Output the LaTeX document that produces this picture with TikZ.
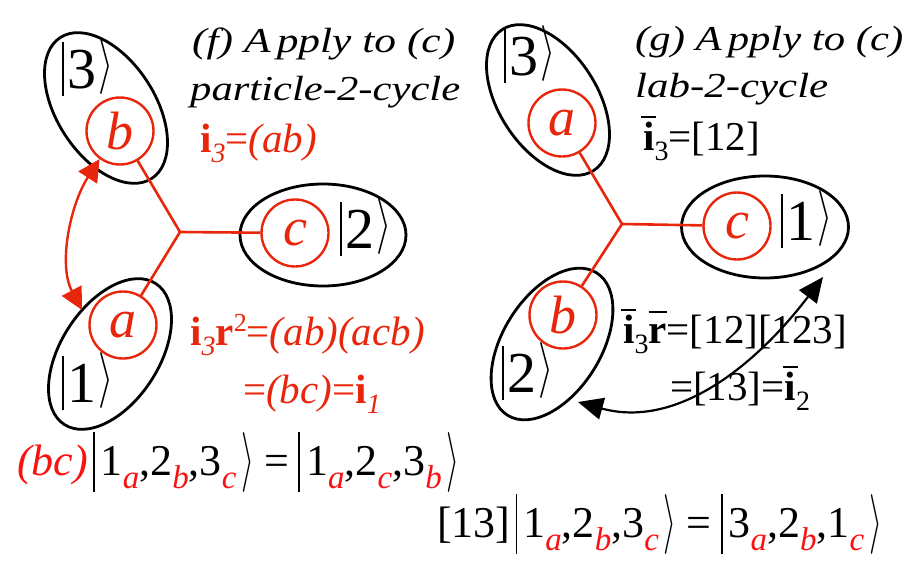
\documentclass[tikz,border=0pt]{standalone}
\usepackage{fontspec}
\setmainfont{Liberation Serif}
\usetikzlibrary{shapes.geometric,arrows.meta}
\definecolor{rd}{RGB}{232,38,12}
\definecolor{rr}{RGB}{250,18,18}
\newcommand{\fs}[1]{\fontsize{#1}{#1}\selectfont}
\newcommand{\angl}[3]{\raisebox{#3}{\scalebox{#1}[#2]{\fontsize{10}{10}\selectfont$\rangle$}}}
\newcommand{\smket}[1]{\raisebox{-8pt}{\rule{2pt}{54pt}}\hspace{4pt}#1\hspace{2pt}\angl{3.9}{5.6}{8pt}}
\newcommand{\sbr}[1]{\raisebox{-13pt}{\fs{33}\itshape\color{rr}#1}}
\newcommand{\kbar}{\hspace{5pt}\raisebox{-17pt}{\rule{1.8pt}{60pt}}\hspace{6pt}}
\newcommand{\kang}{\hspace{5pt}\angl{3.35}{6}{-2pt}\hspace{2pt}}
\newcommand{\keq}{\hspace{8pt}=\hspace{4pt}}
\newcommand{\ib}{\rlap{\hspace{-2pt}\raisebox{32pt}{\rule{15pt}{2.2pt}}}\textbf{i}}
\newcommand{\rb}{\rlap{\raisebox{30pt}{\rule{18pt}{2.2pt}}}\textbf{r}}
\newcommand{\sub}[1]{\raisebox{-10pt}{\fs{28}#1}}
\newcommand{\sups}[1]{\raisebox{14pt}{\fs{26}#1}}
\begin{document}
\begin{tikzpicture}[x=1pt,y=-1pt,
 ell/.style={ellipse,draw=black,line width=2.8pt,inner sep=0pt,minimum width=168pt,minimum height=98pt},
 pc/.style={circle,draw=rd,line width=2.4pt,minimum size=67pt,inner sep=0pt,text=rd,font=\fs{54}\itshape},
 bond/.style={draw=rd,line width=2.6pt},
 ket/.style={anchor=base,font=\fs{58},inner sep=0pt},
 ttl/.style={anchor=base west,font=\fs{35}\itshape,inner sep=0pt},
 eq/.style={anchor=base west,font=\fs{41},inner sep=0pt}
]
\useasboundingbox (0,0) rectangle (908,560);
% left diagram
\node[ell,rotate=-57] (L3) at (106,108) {};
\node[ell,rotate=57] (L1) at (110,354) {};
\node[ell,minimum width=166pt,minimum height=102pt] (L2) at (323,235) {};
\coordinate (jL) at (180,232);
\node[pc] (Lb) at (120,131) {b};
\node[pc] (Lc) at (295,233) {c};
\node[pc] (La) at (123,325) {a};
\draw[bond] (jL) -- (Lb);
\draw[bond] (jL) -- (Lc);
\draw[bond] (jL) -- (La);
\node[ket] (k3L) at (88,88) {\smket{3}};
\node[ket] (k2L) at (366,248) {\smket{2}};
\node[ket] (k1L) at (88,402) {\smket{1}};
\coordinate (t1) at (82,310);
\draw[rd,line width=2.4pt,{Triangle[length=22pt,width=22pt]}-{Triangle[length=22pt,width=22pt]}] (Lb.234) .. controls (70,205) and (58,265) .. (t1);
% right diagram
\node[ell,rotate=-57] (R3) at (548,100) {};
\node[ell,rotate=58] (R2) at (552,344) {};
\node[ell,minimum width=167pt,minimum height=102pt] (R1) at (765,227) {};
\coordinate (jR) at (622,224);
\node[pc] (Ra) at (562,123) {a};
\node[pc] (Rc) at (737,226) {c};
\node[pc] (Rb) at (563,315) {b};
\draw[bond] (jR) -- (Ra);
\draw[bond] (jR) -- (Rc);
\draw[bond] (jR) -- (Rb);
\node[ket] (k3R) at (530,75) {\smket{3}};
\node[ket] (k1R) at (807,240) {\smket{1}};
\node[ket] (k2R) at (528,392) {\smket{2}};
\coordinate (t2) at (578,402);
\coordinate (t3) at (823,277);
\draw[black,line width=2.2pt,{Triangle[length=25pt,width=22pt]}-{Triangle[length=25pt,width=22pt]}] (t2) .. controls (680,430) and (760,360) .. (t3);
% texts
\node[ttl] (tf1) at (192,52) {\resizebox{263pt}{\height}{(f) A\hspace{5pt}pply to (c)}};
\node[ttl] (tf2) at (190,100) {\resizebox{270pt}{\height}{particle-2-cycle}};
\node[ttl] (tg1) at (635,50) {\resizebox{268pt}{\height}{(g) A\hspace{5pt}pply to (c)}};
\node[ttl] (tg2) at (635,97) {\resizebox{193pt}{\height}{lab-2-cycle}};
\node[eq,text=rd] (i3) at (200,152) {\textbf{i}\sub{\textit{3}}=\textit{(ab)}};
\node[eq] (i3b) at (643,150) {\ib\sub{3}=[12]};
\node[eq,text=rd] (e1) at (190,345) {\textbf{i}\sub{\textit{3}}\textbf{r}\sups{2}=\textit{(ab)(acb)}};
\node[eq,text=rd] (e2) at (243,403) {=\textit{(bc)}=\textbf{i}\sub{\textit{1}}};
\node[eq] (e3) at (623,343) {\ib\sub{3}\rb=[12][123]};
\node[eq] (e4) at (670,400) {=[13]=\ib\sub{2}};
\node[eq,font=\fs{44}] (bl) at (17,475) {\textcolor{rr}{\textit{(bc)}}\kbar 1\sbr{a},2\sbr{b},3\sbr{c}\kang\keq\kbar 1\sbr{a},2\sbr{c},3\sbr{b}\kang};
\node[eq,font=\fs{44}] (br) at (437,537) {[13]\kbar 1\sbr{a},2\sbr{b},3\sbr{c}\kang\keq\kbar 3\sbr{a},2\sbr{b},1\sbr{c}\kang};
\end{tikzpicture}
\end{document}
